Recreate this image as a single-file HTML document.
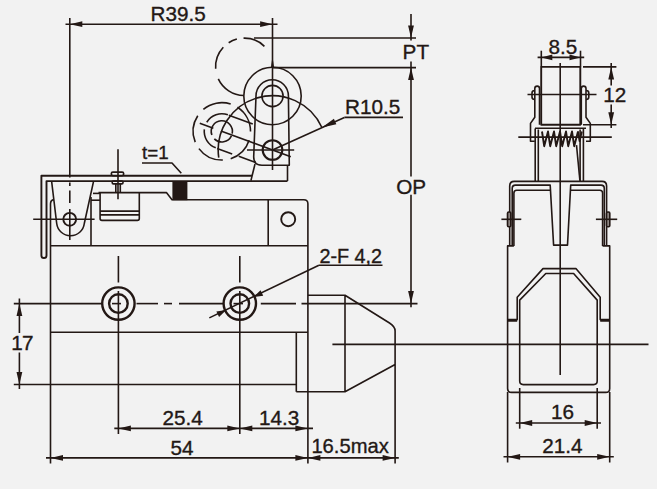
<!DOCTYPE html>
<html><head><meta charset="utf-8"><title>Limit switch dimensions</title>
<style>
html,body{margin:0;padding:0;background:#f2f2f2;}
svg{display:block;}
.l{fill:none;stroke:#231815;stroke-width:1.6;stroke-linecap:butt;stroke-linejoin:round;}
.m{fill:none;stroke:#231815;stroke-width:1.9;stroke-linejoin:round;}
.t{fill:none;stroke:#231815;stroke-width:2.4;}
.s{fill:none;stroke:#231815;stroke-width:1.9;stroke-linejoin:round;}
.a{fill:#231815;stroke:none;}
text{font-family:"Liberation Sans",Arial,Helvetica,sans-serif;fill:#231815;stroke:#231815;stroke-width:0.35;}
</style></head><body>
<svg width="657" height="489" viewBox="0 0 657 489">
<rect x="0" y="0" width="657" height="489" fill="#f2f2f2"/>
<line class="l" x1="65.50" y1="24.20" x2="277.50" y2="24.20" />
<polygon class="a" points="69.80,24.20 82.30,21.30 82.30,27.10"/>
<polygon class="a" points="272.60,24.20 260.10,27.10 260.10,21.30"/>
<line class="l" x1="69.80" y1="18.00" x2="69.80" y2="177.50" />
<line class="l" x1="69.80" y1="182.50" x2="69.80" y2="186.00" />
<line class="l" x1="69.80" y1="190.50" x2="69.80" y2="203.00" />
<line class="l" x1="69.80" y1="209.00" x2="69.80" y2="240.00" />
<line class="l" x1="272.50" y1="18.00" x2="272.50" y2="170.00" />
<text x="150.60" y="21.00" font-size="20.7" >R39.5</text>
<line class="l" x1="254.00" y1="38.00" x2="416.00" y2="38.00" />
<line class="l" x1="273.00" y1="67.60" x2="416.00" y2="67.60" />
<line class="l" x1="411.00" y1="14.00" x2="411.00" y2="40.50" />
<polygon class="a" points="411.00,38.00 408.10,25.50 413.90,25.50"/>
<line class="l" x1="411.00" y1="61.50" x2="411.00" y2="176.40" />
<polygon class="a" points="411.00,67.60 413.90,80.10 408.10,80.10"/>
<line class="l" x1="411.00" y1="194.80" x2="411.00" y2="307.20" />
<polygon class="a" points="411.00,303.60 408.10,291.10 413.90,291.10"/>
<text x="402.60" y="58.70" font-size="20.7" >PT</text>
<text x="396.20" y="193.50" font-size="20.7" >OP</text>
<circle class="l" cx="272.50" cy="96.00" r="28.70" />
<circle class="l" cx="272.50" cy="96.00" r="10.60" />
<path class="l" d="M253.7,157 L256,96 A16.2,16.2 0 0 1 288.4,96 L289.3,165.2 L262,165.2 Q253.7,165.2 253.7,157" />
<circle class="t" cx="272.50" cy="150.00" r="9.80" style="stroke-width:2.1"/>
<line class="l" x1="247.00" y1="150.00" x2="294.20" y2="150.00" />
<path class="l" d="M255,164 L250.9,180.8" />
<path class="l" d="M287.5,165.2 L287.5,181" />
<path class="l" d="M218.73,157.56 A54.3,54.3 0 0 1 321.91,127.48" />
<line class="l" x1="272.50" y1="150.00" x2="344.40" y2="117.40" />
<line class="l" x1="344.40" y1="117.40" x2="403.00" y2="117.40" />
<polygon class="a" points="321.91,127.48 333.88,118.76 336.36,124.23"/>
<text x="345.00" y="113.70" font-size="20.7" >R10.5</text>
<path class="l" d="M243.55,38.11 A28.7,28.7 0 0 1 264.42,46.33" />
<path class="l" d="M228.67,42.73 A28.7,28.7 0 0 1 236.87,39.08" />
<path class="l" d="M215.67,68.80 A28.7,28.7 0 0 1 223.31,47.23" />
<path class="l" d="M243.80,95.50 A28.7,28.7 0 0 1 218.29,78.93" />
<polygon class="a" points="272.5,56.5 274.1,67.6 270.9,67.6"/>
<path class="l" d="M249.12,140.22 A28.7,28.7 0 0 1 230.69,158.65" />
<path class="l" d="M222.82,160.04 A28.7,28.7 0 0 1 198.90,148.63" />
<path class="l" d="M195.21,142.11 A28.7,28.7 0 0 1 197.75,115.72" />
<path class="l" d="M203.37,109.37 A28.7,28.7 0 0 1 230.69,104.06" />
<path class="l" d="M237.45,107.28 A28.7,28.7 0 0 1 250.52,131.60" />
<path class="l" d="M211.86,134.98 A10.6,10.6 0 1 1 232.19,133.56" />
<path class="l" d="M231.43,135.83 A10.6,10.6 0 0 1 214.33,138.85" />
<path class="l" d="M227.90,114.84 A17.6,17.6 0 0 0 206.77,122.24" />
<path class="l" d="M204.32,129.45 A17.6,17.6 0 0 0 215.74,147.87" />
<line class="l" x1="228.84" y1="115.18" x2="252.77" y2="123.99" />
<line class="l" x1="217.15" y1="148.39" x2="232.17" y2="153.91" />
<line class="l" x1="238.74" y1="156.33" x2="255.63" y2="162.55" />
<line class="l" x1="199.77" y1="123.24" x2="213.37" y2="128.25" />
<line class="l" x1="220.88" y1="131.01" x2="290.80" y2="156.73" />
<path class="m" d="M252,175.7 L41.4,175.7 L41.4,255.4 Q41.4,258 43.95,258 Q46.5,258 46.5,255.4 L46.5,181.1 L287.5,181.1" />
<path class="l" d="M51.6,181.1 L56.7,223.5 A13.9,13.9 0 0 0 84.3,223.5 L93.6,181.1" />
<circle class="m" cx="69.70" cy="219.30" r="6.40" />
<line class="l" x1="33.20" y1="219.30" x2="94.60" y2="219.30" />
<path class="l" d="M54,199.6 Q50.5,200 50.5,204 L50.5,463.5" />
<line class="l" x1="91.00" y1="197.00" x2="91.00" y2="245.80" />
<path class="l" d="M93,193.4 L100,193.4" />
<path class="l" d="M91,200.2 L100,200.2" />
<path class="l" d="M100.1,192.6 L100.1,218.5 Q100.1,220.4 102,220.4 L137.4,220.4 Q139.3,220.4 139.3,218.5 L139.3,192.6" />
<line class="l" x1="100.10" y1="211.10" x2="139.30" y2="211.10" />
<line class="l" x1="100.10" y1="214.90" x2="139.30" y2="214.90" />
<path class="l" d="M98.5,192.6 L166.4,192.6 L172,199.7 L303.8,199.7 Q307.9,199.7 307.9,203.8 L307.9,463.5" />
<rect x="172.4" y="181.6" width="15" height="18.6" fill="#231815"/>
<line class="l" x1="118.00" y1="149.20" x2="118.00" y2="199.30" />
<rect class="l" x="111.3" y="172.1" width="12.4" height="3.6" rx="1.6"/>
<rect class="l" x="112.2" y="181.1" width="10.8" height="2.8" rx="1.2"/>
<path class="l" d="M115.8,184 L115.8,192.5 M120.3,184 L120.3,192.5" />
<text x="142.00" y="159.30" font-size="18.8" >t=1</text>
<path class="l" d="M142,163 L172,163 L181.3,173.2" />
<line class="l" x1="50.50" y1="245.80" x2="307.90" y2="245.80" />
<line class="l" x1="268.20" y1="199.70" x2="268.20" y2="245.80" />
<circle class="m" cx="288.20" cy="219.20" r="7.00" />
<line class="l" x1="50.50" y1="332.20" x2="307.90" y2="332.20" />
<line class="l" x1="13.80" y1="384.50" x2="296.30" y2="384.50" />
<line class="l" x1="296.30" y1="332.20" x2="296.30" y2="391.80" />
<path class="l" d="M307.9,295.2 L345,295.2 L389.5,323 Q395.1,326.5 395.1,331 L395.1,364.5 M395.1,331 L395.1,463.5 M395.1,364.5 L345,391.8 L296.3,391.8 M345,295.2 L345,391.8" />
<line class="l" x1="332.40" y1="344.40" x2="648.50" y2="344.40" />
<circle class="t" cx="118.40" cy="303.60" r="16.20" />
<circle class="t" cx="118.40" cy="303.60" r="9.30" />
<line class="l" x1="118.40" y1="256.00" x2="118.40" y2="282.50" />
<line class="l" x1="118.40" y1="291.00" x2="118.40" y2="434.00" />
<circle class="t" cx="239.80" cy="303.60" r="16.20" />
<circle class="t" cx="239.80" cy="303.60" r="9.30" />
<line class="l" x1="239.80" y1="256.00" x2="239.80" y2="282.50" />
<line class="l" x1="239.80" y1="291.00" x2="239.80" y2="434.00" />
<line class="l" x1="13.80" y1="303.60" x2="102.00" y2="303.60" />
<line class="l" x1="112.00" y1="303.60" x2="121.00" y2="303.60" />
<line class="l" x1="136.50" y1="303.60" x2="158.00" y2="303.60" />
<line class="l" x1="164.00" y1="303.60" x2="172.00" y2="303.60" />
<line class="l" x1="179.00" y1="303.60" x2="223.50" y2="303.60" />
<line class="l" x1="233.50" y1="303.60" x2="243.00" y2="303.60" />
<line class="l" x1="260.80" y1="303.60" x2="296.00" y2="303.60" />
<line class="l" x1="301.50" y1="303.60" x2="417.50" y2="303.60" />
<line class="l" x1="19.40" y1="298.50" x2="19.40" y2="333.00" />
<line class="l" x1="19.40" y1="352.50" x2="19.40" y2="389.00" />
<polygon class="a" points="19.40,303.60 22.30,316.10 16.50,316.10"/>
<polygon class="a" points="19.40,384.50 16.50,372.00 22.30,372.00"/>
<text x="11.20" y="350.00" font-size="20.7" letter-spacing="-0.8">17</text>
<line class="l" x1="318.90" y1="265.30" x2="382.50" y2="265.30" />
<line class="l" x1="318.90" y1="265.30" x2="209.30" y2="317.90" />
<polygon class="a" points="253.32,297.11 260.55,290.20 263.23,295.79"/>
<polygon class="a" points="226.28,310.09 219.05,317.00 216.37,311.41"/>
<text x="319.40" y="262.80" font-size="19.8" >2-F 4,2</text>
<line class="l" x1="114.30" y1="428.40" x2="313.00" y2="428.40" />
<polygon class="a" points="118.40,428.40 130.90,425.50 130.90,431.30"/>
<polygon class="a" points="239.80,428.40 227.30,431.30 227.30,425.50"/>
<polygon class="a" points="239.80,428.40 252.30,425.50 252.30,431.30"/>
<polygon class="a" points="307.90,428.40 295.40,431.30 295.40,425.50"/>
<text x="162.50" y="425.40" font-size="20.7" >25.4</text>
<text x="259.00" y="424.60" font-size="20.7" >14.3</text>
<line class="l" x1="46.00" y1="457.90" x2="398.80" y2="457.90" />
<polygon class="a" points="50.50,457.90 63.00,455.00 63.00,460.80"/>
<polygon class="a" points="307.90,457.90 295.40,460.80 295.40,455.00"/>
<polygon class="a" points="307.90,457.90 320.40,455.00 320.40,460.80"/>
<polygon class="a" points="395.10,457.90 382.60,460.80 382.60,455.00"/>
<text x="170.50" y="454.60" font-size="20.7" >54</text>
<text x="311.40" y="452.80" font-size="20.2" >16.5max</text>
<rect class="m" x="541.2" y="66.9" width="39.1" height="57.9"/>
<line class="l" x1="560.20" y1="63.00" x2="560.20" y2="375.00" />
<line class="l" x1="527.50" y1="94.50" x2="596.50" y2="94.50" />
<line class="l" x1="518.30" y1="137.10" x2="611.80" y2="137.10" />
<line class="l" x1="541.30" y1="50.70" x2="541.30" y2="66.90" />
<line class="l" x1="580.50" y1="50.70" x2="580.50" y2="66.90" />
<line class="l" x1="537.60" y1="57.40" x2="584.20" y2="57.40" />
<polygon class="a" points="541.30,57.40 552.30,54.50 552.30,60.30"/>
<polygon class="a" points="580.50,57.40 569.50,60.30 569.50,54.50"/>
<text x="548.40" y="54.30" font-size="20.7" >8.5</text>
<line class="l" x1="583.00" y1="66.90" x2="616.40" y2="66.90" />
<line class="l" x1="583.00" y1="124.80" x2="616.40" y2="124.80" />
<line class="l" x1="611.20" y1="63.00" x2="611.20" y2="85.50" />
<line class="l" x1="611.20" y1="104.50" x2="611.20" y2="128.00" />
<polygon class="a" points="611.20,66.90 614.10,79.40 608.30,79.40"/>
<polygon class="a" points="611.20,124.80 608.30,112.30 614.10,112.30"/>
<text x="603.30" y="102.10" font-size="20.7" >12</text>
<path class="l" d="M581.30,124.8 L581.30,88.5 Q581.30,86.1 583.60,86.1 Q586.00,86.1 586.00,88.5 L586.00,117.2 L590.30,123.4 L590.30,141.3 L586.00,141.3" />
<path class="l" d="M586.00,90.5 Q588.80,90.5 588.80,93 L588.80,97 Q588.80,99.5 586.00,99.5" />
<path class="l" d="M580.1,129.5 L580.1,181.2 M583.4,128.4 L583.4,181.2" />
<path class="l" d="M539.50,124.8 L539.50,88.5 Q539.50,86.1 537.20,86.1 Q534.80,86.1 534.80,88.5 L534.80,117.2 L530.50,123.4 L530.50,141.3 L534.80,141.3" />
<path class="l" d="M534.80,90.5 Q532.00,90.5 532.00,93 L532.00,97 Q532.00,99.5 534.80,99.5" />
<path class="l" d="M535.2,128.4 L535.2,181.2 M538.3,129.5 L538.3,181.2" />
<line class="l" x1="535.00" y1="128.30" x2="586.00" y2="128.30" />
<path class="s" d="M542.00,131.5 L544.20,146.2 L548.00,131.5 L550.20,146.2 L554.00,131.5 L556.20,146.2 L560.00,131.5 L562.20,146.2 L566.00,131.5 L568.20,146.2 L572.00,131.5 L574.20,146.2 L578.00,131.5 " />
<path class="l" d="M576.5,145.2 L579.9,180.5" />
<path class="s" d="M578,131.5 L579.6,141 L581.8,131.5" />
<path class="l" d="M509.7,245.9 L509.7,186 Q509.7,181.4 514.3,181.4 L602,181.4 Q606.6,181.4 606.6,186 L606.6,245.9" />
<path class="l" d="M512.2,245.9 L512.2,188.4 Q512.2,185.1 515.5,185.1 L550.2,185.1 L553.6,245.1 L567.5,245.1 L570.7,185.1 L601,185.1 Q604.3,185.1 604.3,188.4 L604.3,245.9" />
<path class="l" d="M513.9,245.9 L513.9,193 Q513.9,190.2 516.7,190.2 L550.5,190.2 M570.4,190.2 L599.8,190.2 Q602.6,190.2 602.6,193 L602.6,245.9" />
<path class="l" d="M513.9,245.9 L507.6,245.9 L507.6,388.4 Q507.6,392.4 511.6,392.4 L605.7,392.4 Q609.7,392.4 609.7,388.4 L609.7,245.9 L602.6,245.9" />
<rect class="l" x="507.5" y="212" width="3.3" height="14.8" rx="1.2" fill="#8d8582" style="fill:#8d8582"/>
<rect class="l" x="606.5" y="212" width="3.3" height="14.8" rx="1.2" fill="#8d8582" style="fill:#8d8582"/>
<line class="l" x1="501.40" y1="219.30" x2="521.30" y2="219.30" />
<line class="l" x1="595.90" y1="219.30" x2="617.20" y2="219.30" />
<path class="l" d="M507.6,319.6 L517.2,319.6 L517.2,297.3 L543,268.6 L575.9,268.6 L600.2,297.3 L600.2,319.6 L609.7,319.6" />
<path class="t" d="M507.6,320.6 L517.2,320.6 M600.2,320.6 L609.7,320.6" />
<path class="l" d="M519.7,381 L519.7,300.1 L545.8,273.5 L573.6,273.5 L597.2,300.1 L597.2,381 Q597.2,384.6 593.6,384.6 L523.3,384.6 Q519.7,384.6 519.7,381" />
<line class="l" x1="519.70" y1="388.00" x2="519.70" y2="428.70" />
<line class="l" x1="597.20" y1="388.00" x2="597.20" y2="428.70" />
<line class="l" x1="515.80" y1="423.00" x2="601.00" y2="423.00" />
<polygon class="a" points="519.70,423.00 532.20,420.10 532.20,425.90"/>
<polygon class="a" points="597.20,423.00 584.70,425.90 584.70,420.10"/>
<text x="551.00" y="418.70" font-size="20.7" >16</text>
<line class="l" x1="507.60" y1="392.00" x2="507.60" y2="462.50" />
<line class="l" x1="609.70" y1="392.00" x2="609.70" y2="462.50" />
<line class="l" x1="503.50" y1="456.80" x2="613.80" y2="456.80" />
<polygon class="a" points="507.60,456.80 520.10,453.90 520.10,459.70"/>
<polygon class="a" points="609.70,456.80 597.20,459.70 597.20,453.90"/>
<text x="542.20" y="453.10" font-size="20.7" >21.4</text>
</svg>
</body></html>
